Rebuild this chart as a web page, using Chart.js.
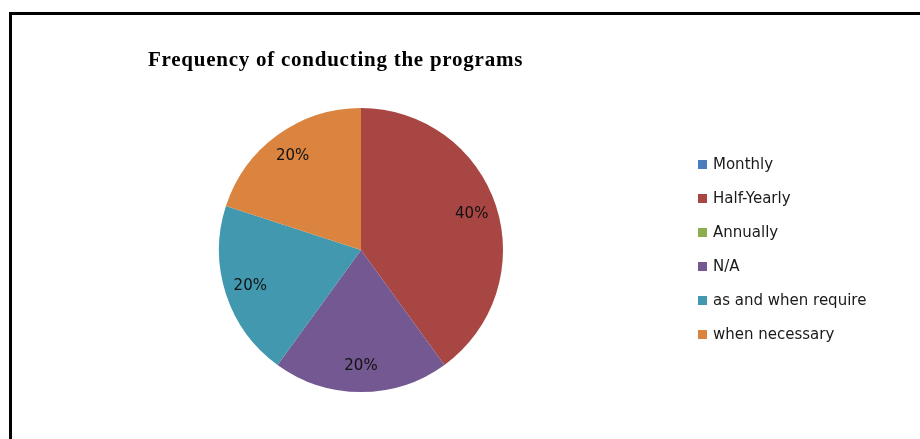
<!DOCTYPE html>
<html>
<head>
<meta charset="utf-8">
<script src="https://cdn.jsdelivr.net/npm/chart.js@4"></script>
<style>
  html, body { margin: 0; padding: 0; background: #fff; }
  #wrap { position: relative; width: 920px; height: 439px; }
  canvas { display: block; }
</style>
</head>
<body>
<div id="wrap"><canvas id="c" width="920" height="439"></canvas></div>
<script>
const chartTitle = 'Frequency of conducting the programs';
const categories = ['Monthly', 'Half-Yearly', 'Annually', 'N/A', 'as and when require', 'when necessary'];
const shares = [0, 40, 0, 20, 20, 20];
const sliceColors = ['#4A7EBB', '#A84644', '#8DAE4E', '#735891', '#4298AF', '#DA843F'];

// Frame, title, custom legend and percentage labels
const decorations = {
  id: 'decorations',
  beforeDraw(chart) {
    const ctx = chart.ctx;
    ctx.save();
    ctx.fillStyle = '#fff';
    ctx.fillRect(0, 0, chart.width, chart.height);
    ctx.fillStyle = '#000';
    ctx.fillRect(9, 12, chart.width - 9, 3);
    ctx.fillRect(9, 12, 3, chart.height - 12);
    ctx.restore();
  },
  afterDatasetsDraw(chart) {
    const ctx = chart.ctx;
    ctx.save();
    // title
    ctx.fillStyle = '#000';
    ctx.font = 'bold 21px "Liberation Serif", "Times New Roman", serif';
    ctx.letterSpacing = '0.75px';
    ctx.textAlign = 'left';
    ctx.textBaseline = 'alphabetic';
    ctx.fillText(chartTitle, 148, 66);
    ctx.letterSpacing = '0px';

    // slice labels
    ctx.textBaseline = 'middle';
    const meta = chart.getDatasetMeta(0);
    const values = chart.data.datasets[0].data;
    const total = values.reduce((a, b) => a + b, 0);
    ctx.font = '15px "DejaVu Sans", Verdana, sans-serif';
    ctx.textAlign = 'center';
    ctx.fillStyle = '#111';
    meta.data.forEach((arc, i) => {
      if (!values[i]) return;
      const p = arc.getProps(['x', 'y', 'startAngle', 'endAngle', 'outerRadius'], true);
      const mid = (p.startAngle + p.endAngle) / 2;
      const r = p.outerRadius * 0.82;
      const pct = Math.round(values[i] / total * 100) + '%';
      ctx.fillText(pct, p.x + Math.cos(mid) * r, p.y + Math.sin(mid) * r);
    });

    // legend
    ctx.font = '15px "DejaVu Sans", Verdana, sans-serif';
    ctx.textAlign = 'left';
    const colors = chart.data.datasets[0].backgroundColor;
    chart.data.labels.forEach((lab, i) => {
      const cy = 164.5 + i * 34;
      ctx.fillStyle = colors[i];
      ctx.fillRect(698, cy - 4.5, 9, 9);
      ctx.fillStyle = '#1a1a1a';
      ctx.fillText(lab, 713, cy + 0.5);
    });
    ctx.restore();
  }
};

new Chart(document.getElementById('c'), {
  type: 'pie',
  data: {
    labels: categories,
    datasets: [{
      data: shares,
      backgroundColor: sliceColors,
      borderWidth: 0
    }]
  },
  options: {
    responsive: false,
    animation: false,
    layout: { padding: { left: 219, right: 417, top: 108, bottom: 47 } },
    plugins: {
      legend: { display: false },
      title: { display: false },
      tooltip: { enabled: false }
    }
  },
  plugins: [decorations]
});
</script>
</body>
</html>
